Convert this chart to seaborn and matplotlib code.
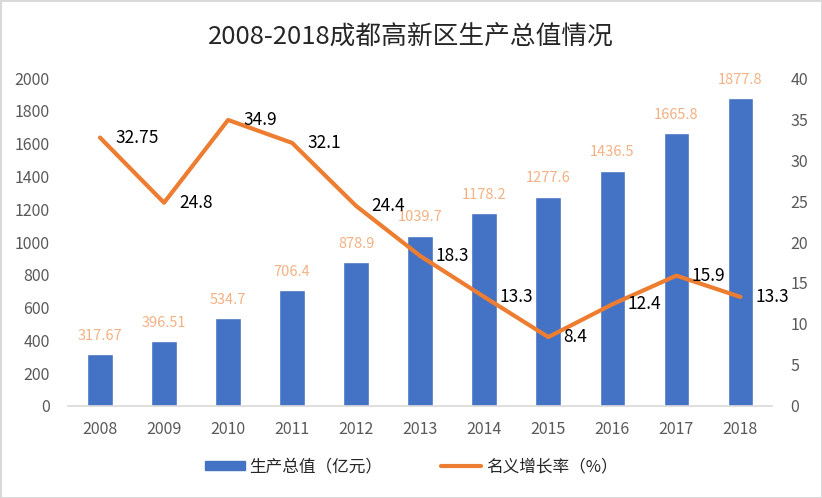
import pandas as pd
import numpy as np
from matplotlib import pyplot as plt
from matplotlib.lines import Line2D
from matplotlib.patches import Patch
import seaborn as sns

years = ["2008", "2009", "2010", "2011", "2012", "2013", "2014", "2015", "2016", "2017", "2018"]
gdp = [317.67, 396.51, 534.7, 706.4, 878.9, 1039.7, 1178.2, 1277.6, 1436.5, 1665.8, 1877.8]
gdp_labels = ["317.67", "396.51", "534.7", "706.4", "878.9", "1039.7", "1178.2", "1277.6", "1436.5", "1665.8", "1877.8"]
growth = [32.75, 24.8, 34.9, 32.1, 24.4, 18.3, 13.3, 8.4, 12.4, 15.9, 13.3]
growth_labels = ["32.75", "24.8", "34.9", "32.1", "24.4", "18.3", "13.3", "8.4", "12.4", "15.9", "13.3"]

sns.set_style("white")
plt.rcParams['font.family'] = ['Noto Sans CJK SC', 'DejaVu Sans']

bar_color = "#4472C4"
line_color = "#ED7D31"
tick_color = "#595959"

df = pd.DataFrame({"year": years, "gdp": gdp, "growth": growth})

fig = plt.figure(figsize=(8.22, 4.98), dpi=100)
fig.patch.set_edgecolor("#D9D9D9")
fig.patch.set_linewidth(2)
ax = fig.add_axes([0.0827, 0.185, 0.857, 0.658])

sns.barplot(data=df, x="year", y="gdp", color=bar_color, width=0.4, ax=ax, saturation=1)
ax.set_ylim(0, 2000)
ax.set_yticks(range(0, 2001, 200))
ax.set_xlim(-0.5, len(years) - 0.5)
ax.set_xlabel("")
ax.set_ylabel("")
for i, (v, lab) in enumerate(zip(gdp, gdp_labels)):
    ax.annotate(lab, (i, v), xytext=(0, 8), textcoords="offset points",
                ha="center", va="bottom", fontsize=10.5, color="#F4B183")

ax2 = ax.twinx()
sns.lineplot(x=np.arange(len(years)), y=growth, color=line_color, linewidth=3, ax=ax2)
ax2.set_ylim(0, 40)
ax2.set_yticks(range(0, 41, 5))
for i, (v, lab) in enumerate(zip(growth, growth_labels)):
    ax2.annotate(lab, (i, v), xytext=(11, 0), textcoords="offset points",
                 ha="left", va="center", fontsize=12.5, color="black")

for a in (ax, ax2):
    for s in a.spines.values():
        s.set_visible(False)
    a.tick_params(length=0, labelsize=11.5, labelcolor=tick_color)
ax.spines["bottom"].set_visible(True)
ax.spines["bottom"].set_color("#D9D9D9")
ax.spines["bottom"].set_linewidth(1.2)
ax.tick_params(axis="x", pad=11)
ax.tick_params(axis="y", pad=13)
ax2.tick_params(axis="y", pad=13)

fig.text(0.5, 0.924, "2008-2018成都高新区生产总值情况", ha="center", va="center",
         fontsize=18.5, fontweight="medium")

handles = [Patch(color=bar_color), Line2D([0], [0], color=line_color, linewidth=3)]
fig.legend(handles, ["生产总值（亿元）", "名义增长率（%）"], loc="center", bbox_to_anchor=(0.5, 0.062),
           ncol=2, frameon=False, fontsize=12, handlelength=2.4, handleheight=0.5,
           handletextpad=0.3, columnspacing=3.5)

fig.savefig("out.png", dpi=100)
